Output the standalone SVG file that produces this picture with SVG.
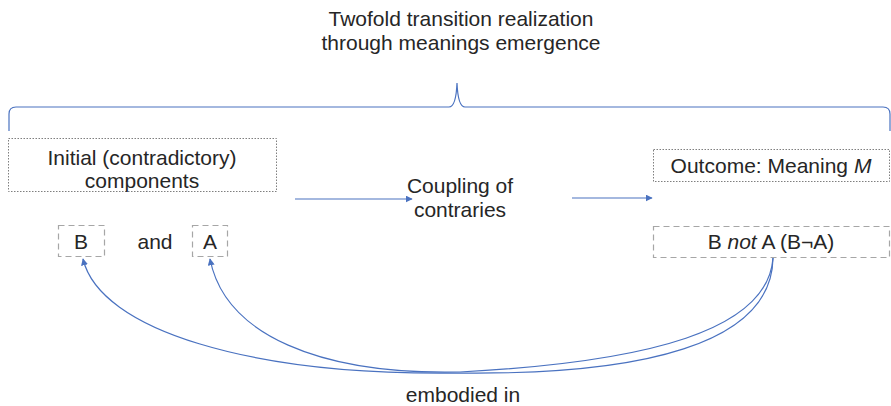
<svg xmlns="http://www.w3.org/2000/svg" width="891" height="406" viewBox="0 0 891 406">
  <style>
    .t { font-family: "Liberation Sans", Arial, sans-serif; font-size: 21px; fill: #262626; text-anchor: middle; }
    .dot { fill: #ffffff; stroke: #7f7f7f; stroke-width: 1; stroke-dasharray: 1.5 1.5; }
    .dash { fill: #ffffff; stroke: #a6a6a6; stroke-width: 1.2; stroke-dasharray: 6 4; }
    .link { fill: none; stroke: #4a72c0; stroke-width: 1.2; }
  </style>
  <defs>
    <marker id="arr" viewBox="0 0 10 10" refX="9" refY="5" markerWidth="7" markerHeight="7" markerUnits="userSpaceOnUse" orient="auto">
      <path d="M0,0 L10,5 L0,10 z" fill="#4a72c0"/>
    </marker>
  </defs>

  <!-- heading -->
  <g id="title">
    <text class="t" x="461" y="26">Twofold transition realization</text>
    <text class="t" x="461" y="50">through meanings emergence</text>
  </g>

  <!-- brace spanning the whole transition -->
  <g id="brace">
    <path class="link" d="M9,131 L9,114 Q9,107 16,107 L449,107 Q456,107 457,83 Q458,107 465,107 L883,107 Q890,107 890,114 L890,131"/>
  </g>

  <g id="initial">
    <rect class="dot" x="8.5" y="138.5" width="268" height="53"/>
    <text class="t" x="142" y="165">Initial (contradictory)</text>
    <text class="t" x="142" y="188">components</text>
  </g>

  <g id="coupling">
    <text class="t" x="460" y="193">Coupling of</text>
    <text class="t" x="460" y="217">contraries</text>
  </g>

  <g id="outcome">
    <rect class="dot" x="653.5" y="149.5" width="236" height="32"/>
    <text class="t" x="771" y="173">Outcome: Meaning <tspan font-style="italic">M</tspan></text>
  </g>

  <g id="b">
    <rect class="dash" x="58.5" y="225.5" width="46" height="31"/>
    <text class="t" x="81" y="249">B</text>
  </g>

  <g id="and">
    <text class="t" x="155" y="249">and</text>
  </g>

  <g id="a">
    <rect class="dash" x="192.5" y="225.5" width="35" height="31"/>
    <text class="t" x="210" y="249">A</text>
  </g>

  <g id="bnota">
    <rect class="dash" x="653.5" y="226.5" width="236" height="31"/>
    <text class="t" x="771" y="249">B <tspan font-style="italic">not</tspan> A (B¬A)</text>
  </g>

  <g id="embodied">
    <text class="t" x="463" y="402">embodied in</text>
  </g>

  <g id="connectors">
    <path class="link" d="M295,199 L412,199" marker-end="url(#arr)"/>
    <path class="link" d="M572,198 L652,198" marker-end="url(#arr)"/>
    <path class="link" d="M773,258 C772,345 640,375 460,373 C250,376 100,330 83,259" marker-end="url(#arr)"/>
    <path class="link" d="M773,258 C768,330 650,362 460,372 C320,375 225,335 210,259" marker-end="url(#arr)"/>
  </g>
</svg>
